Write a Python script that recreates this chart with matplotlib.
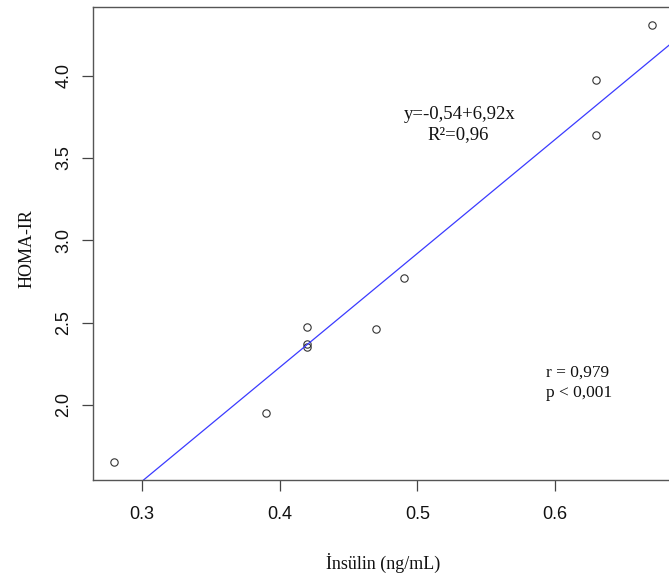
import matplotlib
matplotlib.use("Agg")
import matplotlib.pyplot as plt
import numpy as np

# Data
insulin = [0.28, 0.39, 0.42, 0.42, 0.42, 0.47, 0.49, 0.63, 0.63, 0.67]
homa_ir = [1.65, 1.95, 2.47, 2.37, 2.35, 2.46, 2.77, 3.97, 3.64, 4.31]
intercept = -0.54
slope = 6.92
x_ticks = [0.3, 0.4, 0.5, 0.6]
y_ticks = [2.0, 2.5, 3.0, 3.5, 4.0]
eq_text = "y=-0,54+6,92x"
r2_text = "R²=0,96"
r_text = "r = 0,979"
p_text = "p < 0,001"
x_label = "İnsülin (ng/mL)"
y_label = "HOMA-IR"

W, H = 669, 579
fig = plt.figure(figsize=(W / 100, H / 100), dpi=100)
left, right, top, bottom = 93, 673, 7, 480
ax = fig.add_axes([left / W, 1 - bottom / H, (right - left) / W, (bottom - top) / H])

xr = max(insulin) - min(insulin)
yr = max(homa_ir) - min(homa_ir)
ax.set_xlim(min(insulin) - 0.04 * xr, max(insulin) + 0.04 * xr)
ax.set_ylim(min(homa_ir) - 0.04 * yr, max(homa_ir) + 0.04 * yr)

ax.plot(insulin, homa_ir, linestyle="none", marker="o", markersize=5.3,
        markerfacecolor="none", markeredgecolor="#333333", markeredgewidth=0.8)
ax.axline((0, intercept), slope=slope, color="#3b3bff", linewidth=0.9)

for s in ax.spines.values():
    s.set_color("#555555")
    s.set_linewidth(1.0)

ax.set_xticks(x_ticks)
ax.set_xticklabels([f"{v:.1f}" for v in x_ticks], fontfamily="Liberation Sans", fontsize=13)
ax.set_yticks(y_ticks)
ax.set_yticklabels([f"{v:.1f}" for v in y_ticks], fontfamily="Liberation Sans", fontsize=13,
                   rotation=90, va="center")
ax.tick_params(axis="x", length=8, width=0.9, color="#444444", pad=11, labelcolor="#111111")
ax.tick_params(axis="y", length=8, width=0.9, color="#444444", pad=7, labelcolor="#111111")

ax.set_xlabel(x_label, fontfamily="Liberation Serif", fontsize=13, color="#111111")
ax.xaxis.set_label_coords(0.5, (bottom - 563) / (bottom - top))
ax.xaxis.label.set_va("center")
ax.set_ylabel(y_label, fontfamily="Liberation Serif", fontsize=13, color="#111111")
ax.yaxis.set_label_coords((27 - left) / (right - left), 0.49)
ax.yaxis.label.set_va("center")

def fx(px):
    return (px - left) / (right - left)

def fy(py):
    return (bottom - py) / (bottom - top)

tf = dict(fontfamily="Liberation Serif", color="#111111", transform=ax.transAxes)
ax.text(fx(459.5), fy(115), eq_text, fontsize=13.5, ha="center", va="center", **tf)
ax.text(fx(458), fy(135), r2_text, fontsize=13.5, ha="center", va="center", **tf)
ax.text(fx(546), fy(373), r_text, fontsize=12.5, ha="left", va="center", **tf)
ax.text(fx(546), fy(393), p_text, fontsize=12.5, ha="left", va="center", **tf)

fig.savefig("out.png", dpi=100)
